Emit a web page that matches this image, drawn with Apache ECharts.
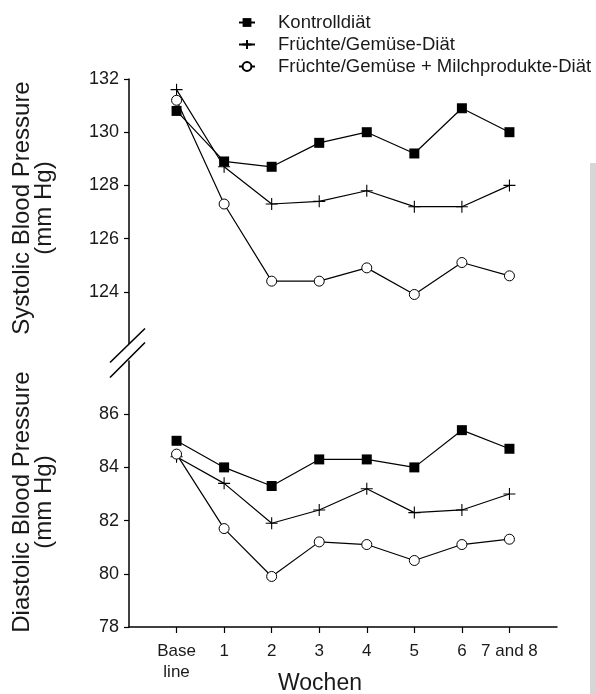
<!DOCTYPE html>
<html>
<head>
<meta charset="utf-8">
<script src="https://cdn.jsdelivr.net/npm/echarts@6/dist/echarts.min.js"></script>
<style>
  html, body { margin: 0; padding: 0; background: #fff; }
  #chart { width: 596px; height: 694px; }
</style>
</head>
<body>
<div id="chart"></div>
<script>
// Wochen (x categories), placed at 0..7
var weeks = ['Base\nline', '1', '2', '3', '4', '5', '6', '7 and 8'];
var seriesNames = ['Kontrolldiät', 'Früchte/Gemüse-Diät', 'Früchte/Gemüse + Milchprodukte-Diät'];

// systolic blood pressure (mm Hg)
var sysControl = [130.8, 128.9, 128.7, 129.6, 130.0, 129.2, 130.9, 130.0];
var sysFruitVeg = [131.6, 128.7, 127.3, 127.4, 127.8, 127.2, 127.2, 128.0];
var sysCombo = [131.2, 127.3, 124.4, 124.4, 124.9, 123.9, 125.1, 124.6];

// diastolic blood pressure (mm Hg)
var diaControl = [85.0, 84.0, 83.3, 84.3, 84.3, 84.0, 85.4, 84.7];
var diaFruitVeg = [84.4, 83.4, 81.9, 82.4, 83.2, 82.3, 82.4, 83.0];
var diaCombo = [84.5, 81.7, 79.9, 81.2, 81.1, 80.5, 81.1, 81.3];

// tick labels
var sysTicks = [124, 126, 128, 130, 132];
var diaTicks = [78, 80, 82, 84, 86];
var weekTicks = [0, 1, 2, 3, 4, 5, 6, 7];

var FONT = 'Liberation Sans, Arial, Helvetica, sans-serif';
var INK = '#1a1a1a';

function pts(arr) {
  return arr.map(function (v, i) { return [i, v]; });
}

var plusPath = 'path://M0,6H12M6,0V12';

function makeSeries(name, data, axisIdx) {
  var s = {
    name: name,
    type: 'line',
    xAxisIndex: axisIdx,
    yAxisIndex: axisIdx,
    data: pts(data),
    lineStyle: { color: '#000', width: 1.2 },
    emphasis: { disabled: true },
    animation: false,
    z: 3
  };
  if (name === seriesNames[0]) {
    s.symbol = 'rect';
    s.symbolSize = 10;
    s.itemStyle = { color: '#000' };
    s.z = 5;
  } else if (name === seriesNames[1]) {
    s.symbol = plusPath;
    s.symbolSize = 12;
    s.itemStyle = { color: 'none', borderColor: '#000', borderWidth: 1.1 };
  } else {
    s.symbol = 'circle';
    s.symbolSize = 10;
    s.itemStyle = { color: '#fff', borderColor: '#000', borderWidth: 1 };
  }
  return s;
}

var gridTop = { left: 129, right: 39, top: 79, height: 266 };
var gridBottom = { left: 129, right: 39, top: 361, height: 266 };

function xAxisFor(idx, visible) {
  return {
    type: 'value',
    gridIndex: idx,
    min: -1,
    max: 8,
    interval: 1,
    show: visible,
    splitLine: { show: false },
    axisLine: { show: visible, onZero: false, lineStyle: { color: '#000', width: 1.5 } },
    axisTick: { show: visible, customValues: weekTicks, length: 6, lineStyle: { color: '#000', width: 1.2 } },
    axisLabel: {
      show: visible,
      customValues: weekTicks,
      margin: 14,
      color: INK,
      fontFamily: FONT,
      fontSize: 17,
      lineHeight: 21,
      formatter: function (v) { return weeks[v] !== undefined ? weeks[v] : ''; }
    }
  };
}

function yAxisFor(idx, min, max, ticks) {
  return {
    type: 'value',
    gridIndex: idx,
    min: min,
    max: max,
    interval: 2,
    splitLine: { show: false },
    axisLine: { show: true, onZero: false, lineStyle: { color: '#000', width: 1.5 } },
    axisTick: { show: true, customValues: ticks, length: 5, lineStyle: { color: '#000', width: 1.2 } },
    axisLabel: {
      customValues: ticks,
      margin: 10,
      color: INK,
      fontFamily: FONT,
      fontSize: 18
    }
  };
}

var chart = echarts.init(document.getElementById('chart'));

var option = {
  backgroundColor: '#fff',
  animation: false,
  grid: [gridTop, gridBottom],
  xAxis: [xAxisFor(0, false), xAxisFor(1, true)],
  yAxis: [yAxisFor(0, 122, 132, sysTicks), yAxisFor(1, 78, 88, diaTicks)],
  legend: {
    orient: 'vertical',
    left: 233,
    top: 8,
    itemWidth: 16,
    itemHeight: 11,
    itemGap: 3,
    selectedMode: false,
    data: seriesNames,
    textStyle: {
      color: INK,
      fontFamily: FONT,
      fontSize: 18.5,
      lineHeight: 18,
      padding: [0, 0, 0, 18]
    }
  },
  series: [
    makeSeries(seriesNames[0], sysControl, 0),
    makeSeries(seriesNames[1], sysFruitVeg, 0),
    makeSeries(seriesNames[2], sysCombo, 0),
    makeSeries(seriesNames[0], diaControl, 1),
    makeSeries(seriesNames[1], diaFruitVeg, 1),
    makeSeries(seriesNames[2], diaCombo, 1)
  ],
  graphic: [
    // axis break marks
    {
      type: 'polygon',
      z: 100,
      shape: { points: [[110, 362.5], [145, 328.5], [145, 342.5], [110, 377.5]] },
      style: { fill: '#fff', stroke: null }
    },
    {
      type: 'line', z: 101,
      shape: { x1: 110, y1: 362.5, x2: 145, y2: 328.5 },
      style: { stroke: '#000', lineWidth: 1.6 }
    },
    {
      type: 'line', z: 101,
      shape: { x1: 110, y1: 377.5, x2: 145, y2: 342.5 },
      style: { stroke: '#000', lineWidth: 1.6 }
    },
    // axis titles
    {
      type: 'text', z: 50,
      x: 33, y: 208, rotation: Math.PI / 2,
      style: {
        text: 'Systolic Blood Pressure\n(mm Hg)',
        fill: INK, font: '24px ' + FONT, lineHeight: 22,
        align: 'center', verticalAlign: 'middle'
      }
    },
    {
      type: 'text', z: 50,
      x: 33, y: 502, rotation: Math.PI / 2,
      style: {
        text: 'Diastolic Blood Pressure\n(mm Hg)',
        fill: INK, font: '24px ' + FONT, lineHeight: 22,
        align: 'center', verticalAlign: 'middle'
      }
    },
    {
      type: 'text', z: 50,
      x: 320, y: 684,
      style: {
        text: 'Wochen',
        fill: INK, font: '23px ' + FONT,
        align: 'center', verticalAlign: 'middle'
      }
    },
    // grey page edge on the right
    {
      type: 'rect', z: 0,
      shape: { x: 590, y: 163, width: 6, height: 531 },
      style: { fill: '#d6d6d6' }
    }
  ]
};

chart.setOption(option);
</script>
</body>
</html>
